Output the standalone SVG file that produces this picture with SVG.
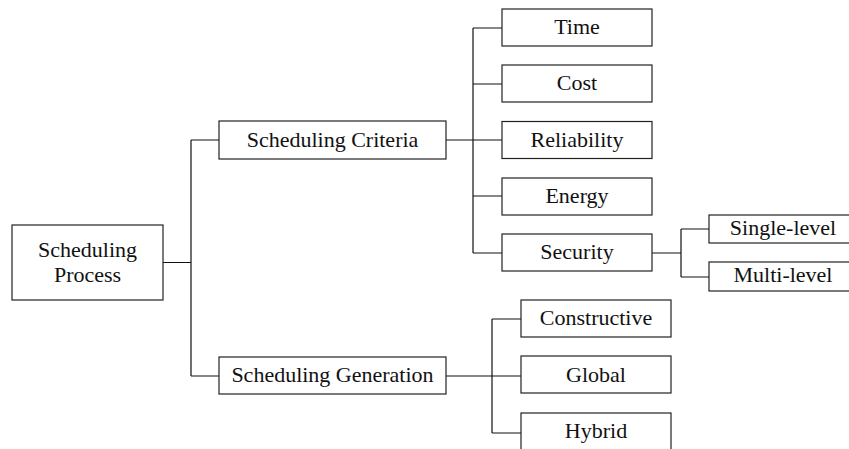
<svg xmlns="http://www.w3.org/2000/svg" width="849" height="449" viewBox="0 0 849 449">
<style>
.box{fill:#fff;stroke:#222;stroke-width:1.2}
.lbl{font-family:"Liberation Serif","DejaVu Serif",serif;font-size:22px;fill:#111;text-anchor:middle}
.con{fill:none;stroke:#111;stroke-width:1.2}
</style>
<rect width="849" height="449" fill="#fff"/>
<g id="connectors">
<path class="con" d="M163,262.5H191M191,140V376M191,140H219M191,376H219"/>
<path class="con" d="M446,140H473M473,28V253M473,28H502M473,84H502M473,140H502M473,196H502M473,253H502"/>
<path class="con" d="M652,253H681M681,229V277M681,229H709M681,277H709"/>
<path class="con" d="M446,376H492M492,319V433M492,319H521M492,376H521M492,433H521"/>
</g>
<g id="n-process"><rect class="box" x="12" y="225" width="151" height="75"/><text class="lbl" x="87.5" y="257">Scheduling</text><text class="lbl" x="87.5" y="282">Process</text></g>
<g id="n-criteria"><rect class="box" x="219" y="121" width="227" height="38"/><text class="lbl" x="332.5" y="147">Scheduling Criteria</text></g>
<g id="n-generation"><rect class="box" x="219" y="357" width="227" height="37"/><text class="lbl" x="332.5" y="382">Scheduling Generation</text></g>
<g id="n-time"><rect class="box" x="502" y="9" width="150" height="37"/><text class="lbl" x="577" y="34">Time</text></g>
<g id="n-cost"><rect class="box" x="502" y="65" width="150" height="37"/><text class="lbl" x="577" y="90">Cost</text></g>
<g id="n-reliability"><rect class="box" x="502" y="121.5" width="150" height="37"/><text class="lbl" x="577" y="146.5">Reliability</text></g>
<g id="n-energy"><rect class="box" x="502" y="178" width="150" height="37"/><text class="lbl" x="577" y="203">Energy</text></g>
<g id="n-security"><rect class="box" x="502" y="234" width="150" height="37"/><text class="lbl" x="577" y="259">Security</text></g>
<g id="n-single"><rect class="box" x="709" y="215" width="142" height="28"/><text class="lbl" x="783" y="235">Single-level</text></g>
<g id="n-multi"><rect class="box" x="709" y="262" width="142" height="29"/><text class="lbl" x="783" y="282">Multi-level</text></g>
<g id="n-constructive"><rect class="box" x="521" y="300" width="150" height="37"/><text class="lbl" x="596" y="325">Constructive</text></g>
<g id="n-global"><rect class="box" x="521" y="356" width="150" height="37"/><text class="lbl" x="596" y="382">Global</text></g>
<g id="n-hybrid"><rect class="box" x="521" y="413" width="150" height="37"/><text class="lbl" x="596" y="438">Hybrid</text></g>
</svg>
